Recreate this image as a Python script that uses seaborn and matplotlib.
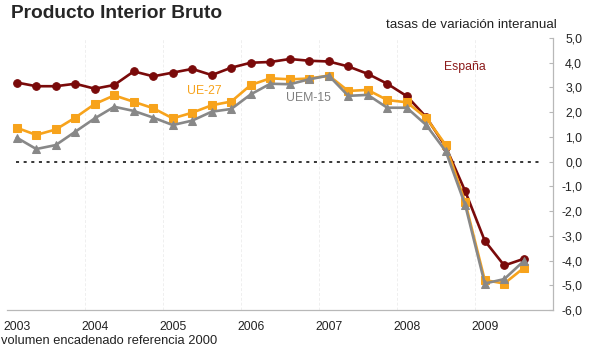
import matplotlib
matplotlib.use("Agg")
import matplotlib.pyplot as plt
import seaborn as sns
import numpy as np
import pandas as pd

# ---- data (year-on-year GDP growth, quarterly 2003Q1 - 2009Q3) ----
years = [2003, 2004, 2005, 2006, 2007, 2008, 2009]
quarters = [f"{y}Q{q}" for y in years for q in range(1, 5)][:27]

espana = [3.2, 3.05, 3.05, 3.15,
          2.95, 3.1, 3.65, 3.45,
          3.6, 3.75, 3.5, 3.8,
          4.0, 4.03, 4.15, 4.08,
          4.05, 3.85, 3.55, 3.15,
          2.65, 1.8, 0.6, -1.2,
          -3.2, -4.2, -3.93]
ue27 = [1.37, 1.08, 1.3, 1.78,
        2.33, 2.68, 2.42, 2.16,
        1.75, 1.98, 2.28, 2.43,
        3.1, 3.37, 3.33, 3.36,
        3.48, 2.86, 2.9, 2.49,
        2.4, 1.77, 0.67, -1.65,
        -4.79, -4.93, -4.3]
uem15 = [0.97, 0.51, 0.67, 1.21,
         1.75, 2.22, 2.05, 1.78,
         1.48, 1.66, 2.02, 2.13,
         2.72, 3.15, 3.13, 3.33,
         3.48, 2.66, 2.7, 2.18,
         2.18, 1.48, 0.42, -1.76,
         -4.93, -4.75, -4.02]

y_ticks = [5, 4, 3, 2, 1, 0, -1, -2, -3, -4, -5, -6]
year_labels = [str(y) for y in years]

# ---- style ----
sns.set_style("white")
plt.rcParams['font.family'] = ['Liberation Sans', 'DejaVu Sans']

c_es = "#7a0a0a"
c_ue = "#f7a31c"
c_uem = "#888888"

# position of each quarter: centre of its quarter slot
xpos = np.array([int(q[:4]) + (int(q[-1]) - 0.5) / 4 for q in quarters])
df = pd.DataFrame({"x": xpos, "España": espana, "UE-27": ue27, "UEM-15": uem15})

fig = plt.figure(figsize=(5.94, 3.54), dpi=100)
ax = fig.add_axes([7 / 594, 1 - 310 / 354, 546 / 594, 272 / 354])

# vertical very light grid at year boundaries
for y in years[1:]:
    ax.axvline(y, color="#efefef", lw=0.7, ls=(0, (3, 2)), zorder=0)

# zero line
ax.hlines(0, 2003.12, 2009.85, colors="black", lw=1.1, ls=(0, (2, 3)), zorder=1)

sns.lineplot(data=df, x="x", y="España", ax=ax, color=c_es, lw=1.9,
             marker="o", markersize=5.5, markeredgecolor=c_es, zorder=3)
sns.lineplot(data=df, x="x", y="UE-27", ax=ax, color=c_ue, lw=1.9,
             marker="s", markersize=5.5, markeredgecolor=c_ue, zorder=4)
sns.lineplot(data=df, x="x", y="UEM-15", ax=ax, color=c_uem, lw=1.9,
             marker="^", markersize=6, markeredgecolor=c_uem, zorder=5)

ax.set_xlim(2003, 2010)
ax.set_ylim(-6, 5)
ax.set_xlabel("")
ax.set_ylabel("")

# spines
for s in ["top", "left"]:
    ax.spines[s].set_visible(False)
for s in ["bottom", "right"]:
    ax.spines[s].set_color("#b8b8b8")
    ax.spines[s].set_linewidth(0.9)

# y axis on the right
ax.yaxis.tick_right()
ax.set_yticks(y_ticks)
ax.set_yticklabels([f"{v:.1f}".replace(".", ",") for v in y_ticks])
ax.tick_params(axis="y", direction="in", length=3, color="#b8b8b8",
               labelsize=8.8, pad=21, labelcolor="#222222")
for lab in ax.get_yticklabels():
    lab.set_horizontalalignment("right")

# x axis: tick marks at year boundaries, labels in first quarter slot
ax.set_xticks(years + [2010])
ax.set_xticklabels([])
ax.tick_params(axis="x", which="major", direction="inout", length=6,
               color="#b8b8b8", width=0.8)
ax.set_xticks([y + 0.125 for y in years], minor=True)
ax.set_xticklabels(year_labels, minor=True)
ax.tick_params(axis="x", which="minor", length=0, labelsize=8.8, pad=8,
               labelcolor="#222222")

# series labels
ax.text(2008.87, 3.84, "España", color="#8b1a1a", fontsize=8.8, ha="center", va="center")
ax.text(2005.53, 2.87, "UE-27", color=c_ue, fontsize=8.8, ha="center", va="center")
ax.text(2006.86, 2.56, "UEM-15", color="#808080", fontsize=8.8, ha="center", va="center")

# titles / notes
fig.text(11 / 594, 1 - 17.5 / 354, "Producto Interior Bruto", fontsize=13.8,
         fontweight="bold", ha="left", va="baseline")
fig.text(557 / 594, 1 - 28.5 / 354, "tasas de variación interanual", fontsize=9.6,
         ha="right", va="baseline", color="#222222")
fig.text(1 / 594, 1 - 344.5 / 354, "volumen encadenado referencia 2000", fontsize=9.3,
         ha="left", va="baseline", color="#222222")

fig.savefig("out.png", dpi=100)
